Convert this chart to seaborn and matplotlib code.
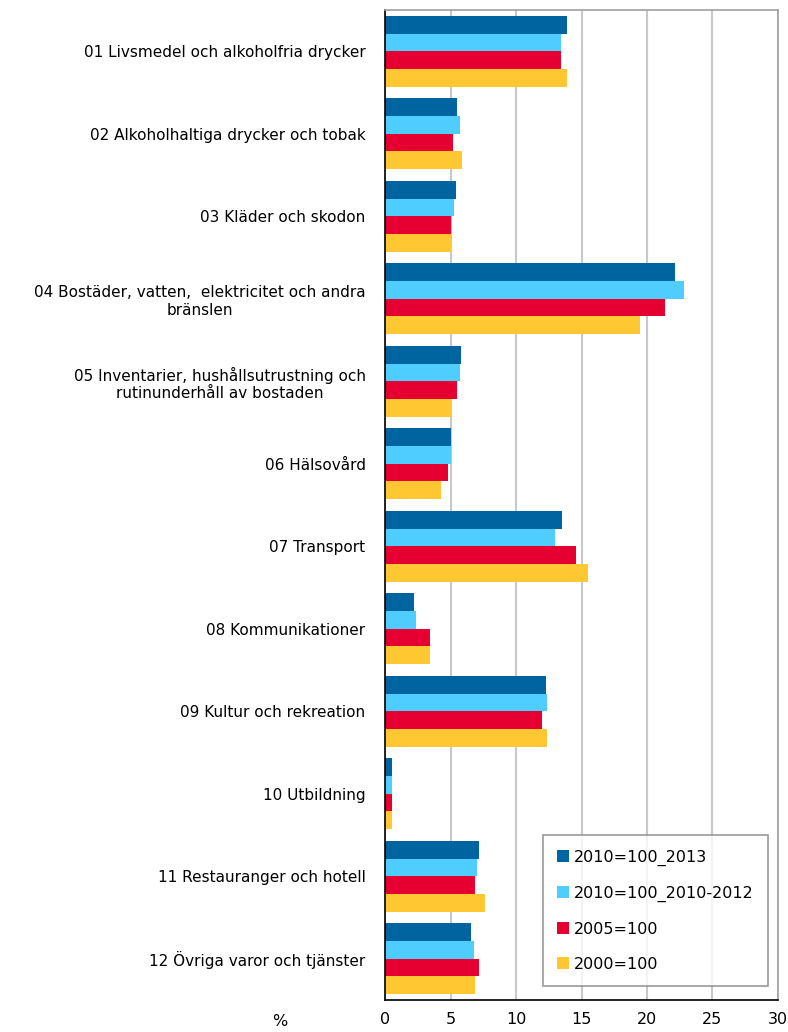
import matplotlib
matplotlib.use('Agg')
import pandas as pd
import numpy as np
import matplotlib.pyplot as plt
import seaborn as sns

# Categories (y axis), label text as in the chart
categories = [
    "01 Livsmedel och alkoholfria drycker",
    "02 Alkoholhaltiga drycker och tobak",
    "03 Kläder och skodon",
    "04 Bostäder, vatten,  elektricitet och andra\nbränslen",
    "05 Inventarier, hushållsutrustning och\nrutinunderhåll av bostaden",
    "06 Hälsovård",
    "07 Transport",
    "08 Kommunikationer",
    "09 Kultur och rekreation",
    "10 Utbildning",
    "11 Restauranger och hotell",
    "12 Övriga varor och tjänster",
]

series_names = ["2010=100_2013", "2010=100_2010-2012", "2005=100", "2000=100"]

# weights in %
w_2013 = [13.9, 5.5, 5.4, 22.1, 5.8, 5.0, 13.5, 2.2, 12.3, 0.5, 7.2, 6.6]
w_2010_2012 = [13.4, 5.7, 5.3, 22.8, 5.7, 5.0, 13.0, 2.4, 12.4, 0.5, 7.0, 6.8]
w_2005 = [13.4, 5.2, 5.0, 21.4, 5.5, 4.8, 14.6, 3.4, 12.0, 0.5, 6.9, 7.2]
w_2000 = [13.9, 5.9, 5.0, 19.5, 5.0, 4.3, 15.5, 3.4, 12.4, 0.5, 7.6, 6.9]

colors = ["#0064A0", "#50CDFF", "#E60032", "#FFC832"]

df = pd.DataFrame({
    "category": categories * 4,
    "series": np.repeat(series_names, len(categories)),
    "value": w_2013 + w_2010_2012 + w_2005 + w_2000,
})

sns.set_style("white")
plt.rcParams['font.family'] = ['DejaVu Sans']
plt.rcParams['text.color'] = 'black'
plt.rcParams['xtick.color'] = 'black'
plt.rcParams['ytick.color'] = 'black'

fig = plt.figure(figsize=(7.88, 10.32), dpi=100)
ax = fig.add_axes([0.4886, 0.031, 0.4987, 0.9593])

sns.barplot(data=df, y="category", x="value", hue="series", orient="h",
            palette=colors, width=0.86, ax=ax, order=categories,
            hue_order=series_names, saturation=1, errorbar=None,
            edgecolor="none")

ax.set_xlim(0, 30)
ax.set_xticks(range(0, 31, 5))
ax.set_xlabel("")
ax.set_ylabel("")
ax.xaxis.grid(True, color="#C8C8C8", linewidth=1.5)
ax.set_axisbelow(True)

for lbl in ax.get_yticklabels():
    lbl.set_multialignment("center")
ax.tick_params(axis="y", length=0, pad=14, labelsize=11, labelcolor="black")
ax.tick_params(axis="x", length=5, width=1, direction="out", labelsize=11.5,
               color="black", labelcolor="black")

ax.spines["left"].set_color("black")
ax.spines["bottom"].set_color("black")
ax.spines["top"].set_color("#A0A0A0")
ax.spines["right"].set_color("#A0A0A0")
for s in ax.spines.values():
    s.set_linewidth(1.2)

fig.text(280 / 788, 1 - 1022 / 1032, "%", ha="center", va="center",
         fontsize=11.5, color="black")

leg = ax.legend(loc="lower right", bbox_to_anchor=(0.975, 0.014), fontsize=11.5,
                frameon=True, fancybox=False, edgecolor="#808080",
                handlelength=0.75, handleheight=0.75, handletextpad=0.3,
                labelspacing=1.25, borderpad=0.9, borderaxespad=0)
leg.get_frame().set_linewidth(1.2)
for t in leg.get_texts():
    t.set_color("black")

fig.savefig("out.png", dpi=100)
